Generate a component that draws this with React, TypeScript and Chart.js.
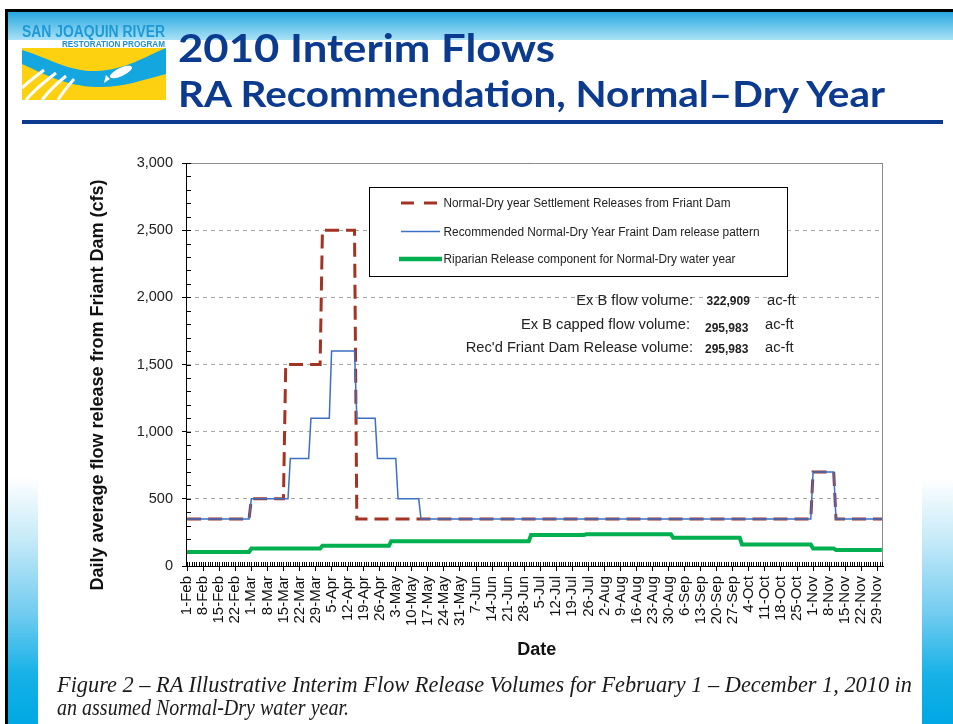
import React, { useEffect, useRef } from 'react';
import { Chart, registerables } from 'chart.js';

Chart.register(...registerables);

// x values are day indices: 0 = 1-Feb-2010 ... 303 = 1-Dec-2010
const tickLabels = [
  '1-Feb', '8-Feb', '15-Feb', '22-Feb',
  '1-Mar', '8-Mar', '15-Mar', '22-Mar', '29-Mar',
  '5-Apr', '12-Apr', '19-Apr', '26-Apr',
  '3-May', '10-May', '17-May', '24-May', '31-May',
  '7-Jun', '14-Jun', '21-Jun', '28-Jun',
  '5-Jul', '12-Jul', '19-Jul', '26-Jul',
  '2-Aug', '9-Aug', '16-Aug', '23-Aug', '30-Aug',
  '6-Sep', '13-Sep', '20-Sep', '27-Sep',
  '4-Oct', '11-Oct', '18-Oct', '25-Oct',
  '1-Nov', '8-Nov', '15-Nov', '22-Nov', '29-Nov',
];
const TICK_STEP_DAYS = 7;
const LAST_DAY = 303;

const yTicks = [0, 500, 1000, 1500, 2000, 2500, 3000];

const seriesNames = [
  'Normal-Dry year Settlement Releases from Friant Dam',
  'Recommended Normal-Dry Year Fraint Dam release pattern',
  'Riparian Release component for Normal-Dry water year',
];

const settlementDays = [0, 27, 28, 42, 43, 58, 59, 73, 74, 272, 273, 282, 283, 303];
const settlementFlows = [350, 350, 500, 500, 1500, 1500, 2500, 2500, 350, 350, 700, 700, 350, 350];

const recommendedDays = [0, 27, 28, 44, 45, 53, 54, 62, 63, 73, 74, 82, 83, 91, 92, 101, 102, 272, 273, 282, 283, 303];
const recommendedFlows = [350, 350, 500, 500, 800, 800, 1100, 1100, 1600, 1600, 1100, 1100, 800, 800, 500, 500, 350, 350, 700, 700, 350, 350];

const riparianDays = [0, 27, 28, 58, 59, 88, 89, 149, 150, 173, 174, 211, 212, 241, 242, 272, 273, 282, 283, 303];
const riparianFlows = [105, 105, 130, 130, 150, 150, 185, 185, 230, 230, 236, 236, 210, 210, 160, 160, 130, 130, 120, 120];

const volumeLabels = ['Ex B flow volume:', 'Ex B capped flow volume:', "Rec'd Friant Dam Release volume:"];
const volumeValues = ['322,909', '295,983', '295,983'];

const RED = '#a33322';
const BLUE = '#3d6fc4';
const GREEN = '#00b050';
const TITLE_BLUE = '#0b3a8e';
const SANS = '"Liberation Sans", Arial, sans-serif';

const pts = (xs: number[], ys: number[]) => xs.map((x, i) => ({ x, y: ys[i] }));

const framePlugin = {
  id: 'frame',
  beforeDatasetsDraw(chart: any) {
    const { ctx, chartArea: a, scales } = chart;
    const xs = scales.x;
    const ys = scales.y;
    ctx.save();
    ctx.lineWidth = 1;
    ctx.strokeStyle = '#8a8a8a';
    ctx.beginPath();
    const top = Math.round(a.top) + 0.5;
    const right = Math.round(a.right) - 0.5;
    ctx.moveTo(a.left, top);
    ctx.lineTo(a.right, top);
    ctx.moveTo(right, a.top);
    ctx.lineTo(right, a.bottom);
    ctx.stroke();
    ctx.strokeStyle = '#000';
    ctx.beginPath();
    for (let d = 0; d <= LAST_DAY; d++) {
      const px = Math.round(xs.getPixelForValue(d)) + 0.5;
      ctx.moveTo(px, a.bottom);
      ctx.lineTo(px, a.bottom - 4);
    }
    for (let v = 100; v <= 3000; v += 100) {
      const py = Math.round(ys.getPixelForValue(v)) + 0.5;
      ctx.moveTo(a.left, py);
      ctx.lineTo(a.left + 5, py);
    }
    ctx.stroke();
    ctx.restore();
  },
};

export default function App() {
  const canvasRef = useRef<HTMLCanvasElement>(null);

  useEffect(() => {
    if (!canvasRef.current) return;
    const chart = new Chart(canvasRef.current, {
      type: 'line',
      data: {
        datasets: [
          {
            label: seriesNames[0],
            data: pts(settlementDays, settlementFlows),
            borderColor: RED,
            borderWidth: 3,
            borderDash: [14, 7],
            borderCapStyle: 'butt',
            pointRadius: 0,
            tension: 0,
            fill: false,
            order: 1,
          },
          {
            label: seriesNames[1],
            data: pts(recommendedDays, recommendedFlows),
            borderColor: BLUE,
            borderWidth: 1.5,
            pointRadius: 0,
            tension: 0,
            fill: false,
            order: 0,
          },
          {
            label: seriesNames[2],
            data: pts(riparianDays, riparianFlows),
            borderColor: GREEN,
            borderWidth: 4,
            pointRadius: 0,
            tension: 0,
            fill: false,
            order: 2,
          },
        ],
      },
      options: {
        responsive: false,
        animation: false,
        events: [],
        layout: { padding: { left: 120, right: 70, top: 163, bottom: 88 } },
        plugins: {
          legend: { display: false },
          tooltip: { enabled: false },
          title: { display: false },
        },
        scales: {
          x: {
            type: 'linear',
            position: 'bottom',
            min: -0.5,
            max: LAST_DAY + 0.5,
            afterBuildTicks: (s: any) => {
              s.ticks = tickLabels.map((_, i) => ({ value: i * TICK_STEP_DAYS }));
            },
            afterFit: (s: any) => {
              s.height = 70;
            },
            ticks: {
              autoSkip: false,
              minRotation: 90,
              maxRotation: 90,
              padding: 5,
              color: '#111',
              font: { family: SANS, size: 15 },
              callback: (_v: any, i: number) => tickLabels[i] ?? '',
            },
            grid: {
              drawOnChartArea: false,
              drawTicks: true,
              tickLength: 5,
              tickColor: '#000',
              color: '#000',
            },
            border: { display: true, color: '#000', width: 1 },
          },
          y: {
            type: 'linear',
            min: 0,
            max: 3000,
            afterBuildTicks: (s: any) => {
              s.ticks = yTicks.map((v) => ({ value: v }));
            },
            afterFit: (s: any) => {
              s.width = 66;
            },
            ticks: {
              padding: 9,
              color: '#222',
              font: { family: SANS, size: 14.5 },
              callback: (v: any) => Number(v).toLocaleString('en-US'),
            },
            grid: {
              color: (ctx: any) =>
                ctx.tick && (ctx.tick.value === 0 || ctx.tick.value === 3000) ? 'rgba(0,0,0,0)' : '#a8a8a8',
              lineWidth: 1,
              tickLength: 4,
              tickColor: '#000',
            },
            border: { display: true, color: '#000', width: 1, dash: [4, 4] },
          },
        },
      },
      plugins: [framePlugin],
    } as any);
    return () => chart.destroy();
  }, []);

  const panelGrad =
    'linear-gradient(to bottom, #ffffff 0%, #c6eaf8 25%, #72ccf0 55%, #16b1e7 80%, #00a8e3 100%)';

  return (
    <div
      style={{
        position: 'absolute',
        left: 0,
        top: 0,
        width: 953,
        height: 724,
        overflow: 'hidden',
        background: '#fff',
        fontFamily: SANS,
      }}
    >
      <div style={{ position: 'absolute', left: 8, top: 12, width: 945, height: 28, background: 'linear-gradient(#27a7e0, #aae2f6)' }} />
      <div style={{ position: 'absolute', left: 8, top: 477, width: 30, height: 247, background: panelGrad }} />
      <div style={{ position: 'absolute', left: 922, top: 478, width: 31, height: 246, background: panelGrad }} />
      <div style={{ position: 'absolute', left: 5, top: 9, width: 948, height: 3, background: '#000' }} />
      <div style={{ position: 'absolute', left: 5, top: 9, width: 3, height: 715, background: '#000' }} />
      <div style={{ position: 'absolute', left: 22, top: 120, width: 921, height: 4, background: TITLE_BLUE }} />

      <canvas
        ref={canvasRef}
        width={953}
        height={724}
        style={{ position: 'absolute', left: 0, top: 0, width: 953, height: 724 }}
      />

      <svg
        width={953}
        height={724}
        style={{ position: 'absolute', left: 0, top: 0, pointerEvents: 'none' }}
      >
        {/* logo */}
        <text x={22} y={37} fontFamily={SANS} fontWeight="bold" fontSize={16} fill="#1d9ad6" textLength={143} lengthAdjust="spacingAndGlyphs">
          SAN JOAQUIN RIVER
        </text>
        <text x={62} y={46.5} fontFamily={SANS} fontWeight="bold" fontSize={9} fill="#1d8fd2" textLength={103} lengthAdjust="spacingAndGlyphs">
          RESTORATION PROGRAM
        </text>
        <rect x={22} y={48} width={144} height={52} fill="#fdd10f" />
        <path d="M22,50 C48,58 70,72 96,71 C126,70 146,56 166,48 L166,74 C142,80 122,88 96,87 C66,86 44,74 22,64 Z" fill="#14a6df" />
        <ellipse cx={121} cy={72} rx={12} ry={4} transform="rotate(-25 121 72)" fill="#fff" />
        <path d="M110,79 L104,83 L106,75 Z" fill="#fff" />
        <g stroke="#fff" strokeWidth={3} fill="none">
          <path d="M44,70 C36,76 28,82 22,88" />
          <path d="M56,73 C44,82 34,90 26,100" />
          <path d="M66,76 C56,84 48,92 42,100" />
          <path d="M74,79 C68,86 62,93 58,100" />
        </g>

        {/* title */}
        <text x={178} y={62} fontFamily="Lato, sans-serif" fontWeight="bold" fontSize={39} fill={TITLE_BLUE} textLength={377} lengthAdjust="spacingAndGlyphs">
          2010 Interim Flows
        </text>
        <text x={178} y={107} fontFamily="Lato, sans-serif" fontWeight="bold" fontSize={36} fill={TITLE_BLUE} textLength={707} lengthAdjust="spacingAndGlyphs">
          RA Recommendation, Normal–Dry Year
        </text>

        {/* legend */}
        <rect x={369.5} y={187.5} width={418} height={89} fill="#fff" stroke="#000" strokeWidth={1} />
        <line x1={401} y1={203} x2={437} y2={203} stroke={RED} strokeWidth={3} strokeDasharray="13 10" />
        <line x1={401} y1={231.5} x2={440} y2={231.5} stroke={BLUE} strokeWidth={1.4} />
        <line x1={399} y1={259} x2={442} y2={259} stroke={GREEN} strokeWidth={4.5} />
        <text x={443.5} y={203} dominantBaseline="central" fontFamily={SANS} fontSize={12} fill="#222" textLength={287} lengthAdjust="spacingAndGlyphs">
          {seriesNames[0]}
        </text>
        <text x={443.5} y={231.5} dominantBaseline="central" fontFamily={SANS} fontSize={12} fill="#222" textLength={316} lengthAdjust="spacingAndGlyphs">
          {seriesNames[1]}
        </text>
        <text x={443.5} y={259} dominantBaseline="central" fontFamily={SANS} fontSize={12} fill="#222" textLength={292} lengthAdjust="spacingAndGlyphs">
          {seriesNames[2]}
        </text>

        {/* volume annotations */}
        <text x={693} y={299.5} textAnchor="end" dominantBaseline="central" fontFamily={SANS} fontSize={14.7} fill="#222">
          {volumeLabels[0]}
        </text>
        <text x={690} y={324.3} textAnchor="end" dominantBaseline="central" fontFamily={SANS} fontSize={14.7} fill="#222">
          {volumeLabels[1]}
        </text>
        <text x={693} y={346.7} textAnchor="end" dominantBaseline="central" fontFamily={SANS} fontSize={14.7} fill="#222">
          {volumeLabels[2]}
        </text>
        <text x={706.5} y={300.7} dominantBaseline="central" fontFamily={SANS} fontWeight="bold" fontSize={12} fill="#222">
          {volumeValues[0]}
        </text>
        <text x={705} y={328} dominantBaseline="central" fontFamily={SANS} fontWeight="bold" fontSize={12} fill="#222">
          {volumeValues[1]}
        </text>
        <text x={705} y={349.3} dominantBaseline="central" fontFamily={SANS} fontWeight="bold" fontSize={12} fill="#222">
          {volumeValues[2]}
        </text>
        <text x={767} y={299.5} dominantBaseline="central" fontFamily={SANS} fontSize={14.7} fill="#222">ac-ft</text>
        <text x={765} y={324.3} dominantBaseline="central" fontFamily={SANS} fontSize={14.7} fill="#222">ac-ft</text>
        <text x={765} y={346.7} dominantBaseline="central" fontFamily={SANS} fontSize={14.7} fill="#222">ac-ft</text>

        {/* axis titles */}
        <text x={103} y={385} textAnchor="middle" transform="rotate(-90 103 385)" fontFamily={SANS} fontWeight="bold" fontSize={18} fill="#111">
          Daily average flow release from Friant Dam (cfs)
        </text>
        <text x={536.7} y={655} textAnchor="middle" fontFamily={SANS} fontWeight="bold" fontSize={18} fill="#111">
          Date
        </text>

        {/* caption */}
        <text x={57} y={692} fontFamily='"Liberation Serif", serif' fontStyle="italic" fontSize={22.5} fill="#1a1a1a" textLength={855} lengthAdjust="spacingAndGlyphs">
          Figure 2 – RA Illustrative Interim Flow Release Volumes for February 1 – December 1, 2010 in
        </text>
        <text x={57} y={715} fontFamily='"Liberation Serif", serif' fontStyle="italic" fontSize={22.5} fill="#1a1a1a" textLength={292} lengthAdjust="spacingAndGlyphs">
          an assumed Normal-Dry water year.
        </text>
      </svg>
    </div>
  );
}
